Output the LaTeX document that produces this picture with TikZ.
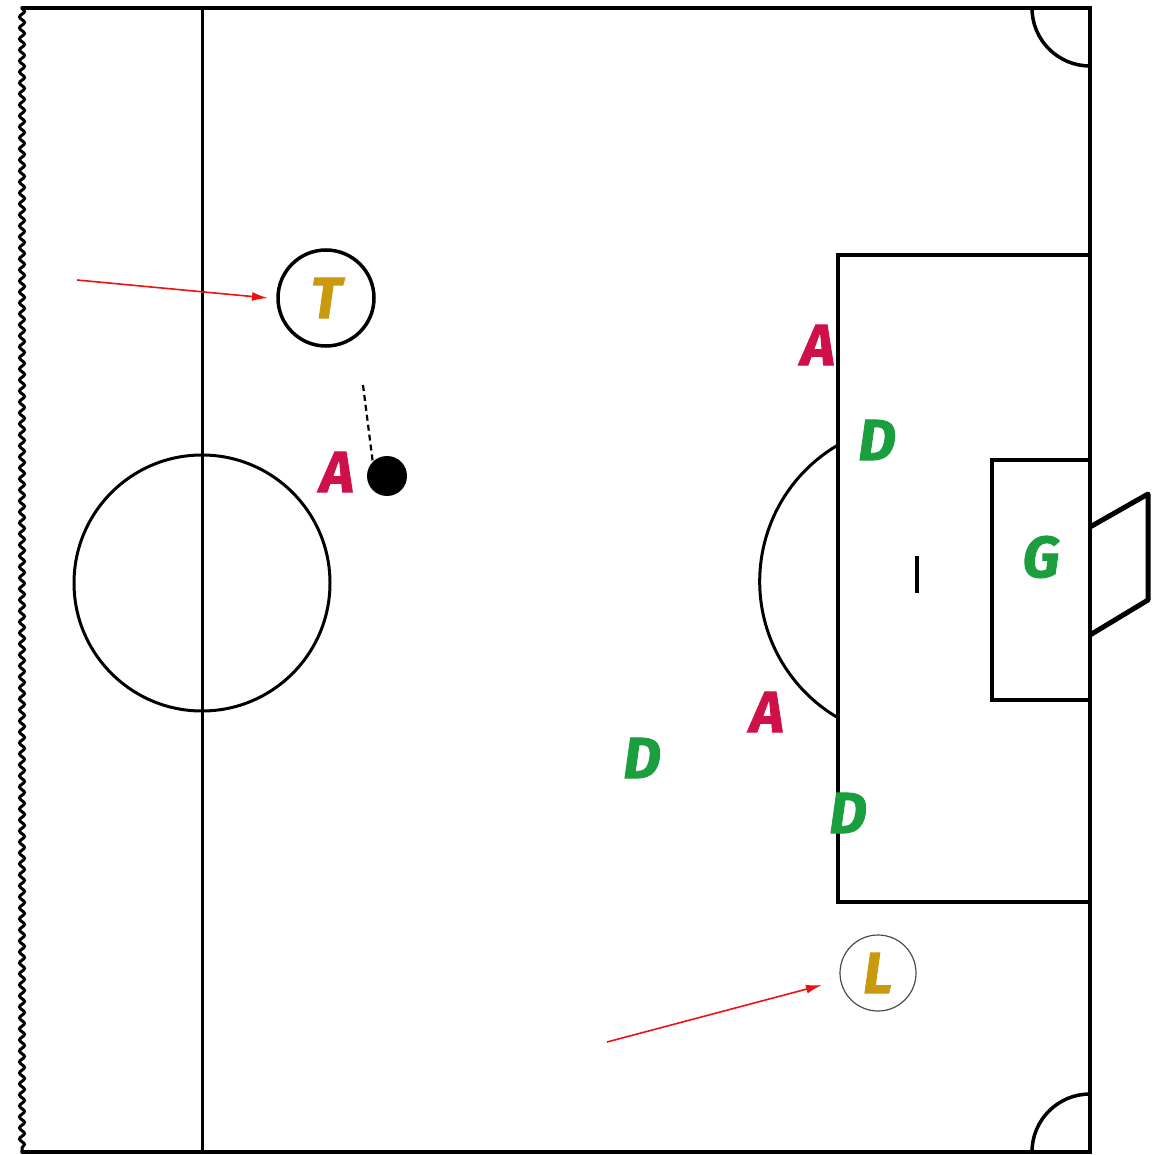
\documentclass[tikz,border=0pt]{standalone}
\usepackage{fontspec}
\setsansfont{Fira Sans}
\newfontfamily\heavy[BoldItalicFeatures={FakeBold=1.6}]{Fira Sans}
\usetikzlibrary{decorations.pathmorphing,arrows.meta}
\definecolor{gold}{HTML}{C99A10}
\definecolor{crim}{HTML}{D01048}
\definecolor{grn}{HTML}{1A9E3E}
\definecolor{arr}{HTML}{F01010}
\tikzset{
  fieldline/.style={line width=3.5pt,black},
  letter/.style={font=\heavy\bfseries\itshape\fontsize{58}{58}\selectfont,inner sep=0pt},
  att/.style={letter,text=crim},
  def/.style={letter,text=grn},
  role/.style={circle,minimum size=96pt,inner sep=0pt,letter,text=gold},
  pointer/.style={arr,line width=1.6pt,-{Latex[length=16pt,width=9pt]}},
}
\begin{document}
\begin{tikzpicture}[x=1pt,y=-1pt]
\useasboundingbox (0,0) rectangle (1159,1155);
% field
\draw[fieldline,line cap=round] (22,8) -- (1090,8) -- (1090,1152) -- (22,1152);
\draw[line width=3pt,decorate,decoration={snake,amplitude=2.5pt,segment length=11pt}] (22,8) -- (22,1152);
\draw[line width=3pt] (202,8) -- (202,1152);
\draw[line width=3pt] (202,583) circle (128);
% penalty area
\draw[fieldline] (1090,255) -- (838,255) -- (838,902) -- (1090,902);
\draw[fieldline] (1090,460) -- (992,460) -- (992,700) -- (1090,700);
\draw[line width=3pt] (838,445) arc[start angle=239.7,end angle=120.3,radius=158];
\draw[line width=4pt] (917,556) -- (917,593);
% goal
\draw[line width=5pt,line join=round] (1090,527) -- (1148,494) -- (1148,600) -- (1090,635);
% corner arcs
\draw[line width=3.5pt] (1032,8) arc[start angle=180,end angle=90,radius=58];
\draw[line width=3.5pt] (1032,1152) arc[start angle=180,end angle=270,radius=58];
% players
\node[role,draw=black,line width=3.5pt] (T) at (326,298) {T};
\node[role,draw=black!70,line width=1.2pt,minimum size=76pt] (L) at (878,973) {L};
\node[circle,fill=black,minimum size=40pt,inner sep=0pt] (ball) at (387,476) {};
\node[att] (A1) at (337,472) {A};
\node[att] (A2) at (818,345) {A};
\node[att] (A3) at (767,712) {A};
\node[def] (D1) at (877,440) {D};
\node[def] (D2) at (642,758) {D};
\node[def] (D3) at (848,813) {D};
\node[def] (G) at (1041,557) {G};
% pointers
\coordinate (tstart) at (77,280);
\coordinate (lstart) at (607,1042);
\coordinate (dstart) at (363,385);
\draw[pointer] (tstart) -- (268,298);
\draw[pointer] (lstart) -- (822,985);
\draw[line width=2.2pt,dash pattern=on 6pt off 4pt] (dstart) -- (ball.north west);
\end{tikzpicture}
\end{document}
